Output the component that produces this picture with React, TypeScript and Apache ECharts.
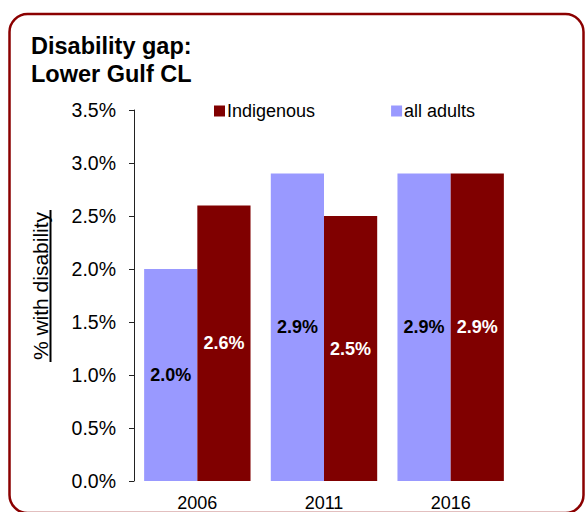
import React, { useEffect, useRef } from "react";
import * as echarts from "echarts";

const categories = ["2006", "2011", "2016"];
const allAdults = [2.0, 2.9, 2.9];
const indigenous = [2.6, 2.5, 2.9];
const yTicks = { min: 0, max: 3.5, interval: 0.5 };
const titleText = "Disability gap:\nLower Gulf CL";
const yAxisName = "% with disability";

const FONT = "'Liberation Sans', Arial, sans-serif";

export default function App() {
  const ref = useRef<HTMLDivElement>(null);
  useEffect(() => {
    document.body.style.margin = "0";
    const chart = echarts.init(ref.current!, null, { renderer: "svg" });
    const labelFmt = (p: any) => p.value.toFixed(1) + "%";
    chart.setOption({
      animation: false,
      backgroundColor: "#ffffff",
      textStyle: { fontFamily: FONT },
      title: {
        text: titleText,
        left: 31,
        top: 32,
        padding: 0,
        textStyle: {
          fontFamily: FONT,
          fontWeight: "bold",
          fontSize: 23.5,
          lineHeight: 28,
          color: "#000",
        },
      },
      legend: {
        data: ["Indigenous", "all adults"],
        left: 214,
        top: 102,
        padding: 0,
        itemWidth: 11,
        itemHeight: 11,
        itemGap: 76,
        icon: "rect",
        textStyle: { fontFamily: FONT, fontSize: 18, color: "#000", padding: [0, 0, 0, -3] },
      },
      grid: { left: 134, top: 110, width: 380, height: 374.5, containLabel: false },
      xAxis: {
        type: "category",
        data: categories,
        axisLine: { show: false },
        axisTick: { show: false },
        axisLabel: { fontFamily: FONT, fontSize: 18, color: "#000", margin: 13 },
      },
      yAxis: {
        type: "value",
        min: yTicks.min,
        max: yTicks.max,
        interval: yTicks.interval,
        splitLine: { show: false },
        axisLine: { show: true, lineStyle: { color: "#222", width: 1 } },
        axisTick: { show: true, length: 5, lineStyle: { color: "#222" } },
        axisLabel: {
          fontFamily: FONT,
          fontSize: 19.5,
          color: "#000",
          margin: 18,
          formatter: (v: number) => v.toFixed(1) + "%",
        },
      },
      series: [
        {
          name: "all adults",
          type: "bar",
          data: allAdults,
          barGap: "0%",
          barCategoryGap: "16%",
          itemStyle: { color: "#9999FF" },
          label: {
            show: true,
            position: "inside",
            formatter: labelFmt,
            fontFamily: FONT,
            fontWeight: "bold",
            fontSize: 18,
            color: "#000",
          },
        },
        {
          name: "Indigenous",
          type: "bar",
          data: indigenous,
          barGap: "0%",
          barCategoryGap: "16%",
          itemStyle: { color: "#800000" },
          label: {
            show: true,
            position: "inside",
            formatter: labelFmt,
            fontFamily: FONT,
            fontWeight: "bold",
            fontSize: 18,
            color: "#fff",
          },
        },
      ],
      graphic: [
        {
          type: "rect",
          shape: { x: 9.5, y: 14, width: 574, height: 499, r: 18 },
          style: { fill: "none", stroke: "#8B0000", lineWidth: 2.5 },
          silent: true,
          z: 100,
        },
        {
          type: "text",
          x: 40,
          y: 286,
          rotation: Math.PI / 2,
          style: {
            text: yAxisName,
            fontFamily: FONT,
            fontSize: 21,
            fill: "#000",
            align: "center",
            verticalAlign: "middle",
          },
        },
        {
          type: "line",
          shape: { x1: 50.5, y1: 210, x2: 50.5, y2: 362 },
          style: { stroke: "#000", lineWidth: 2 },
        },
      ],
    });
    return () => chart.dispose();
  }, []);
  return <div ref={ref} style={{ width: 586, height: 512 }} />;
}
